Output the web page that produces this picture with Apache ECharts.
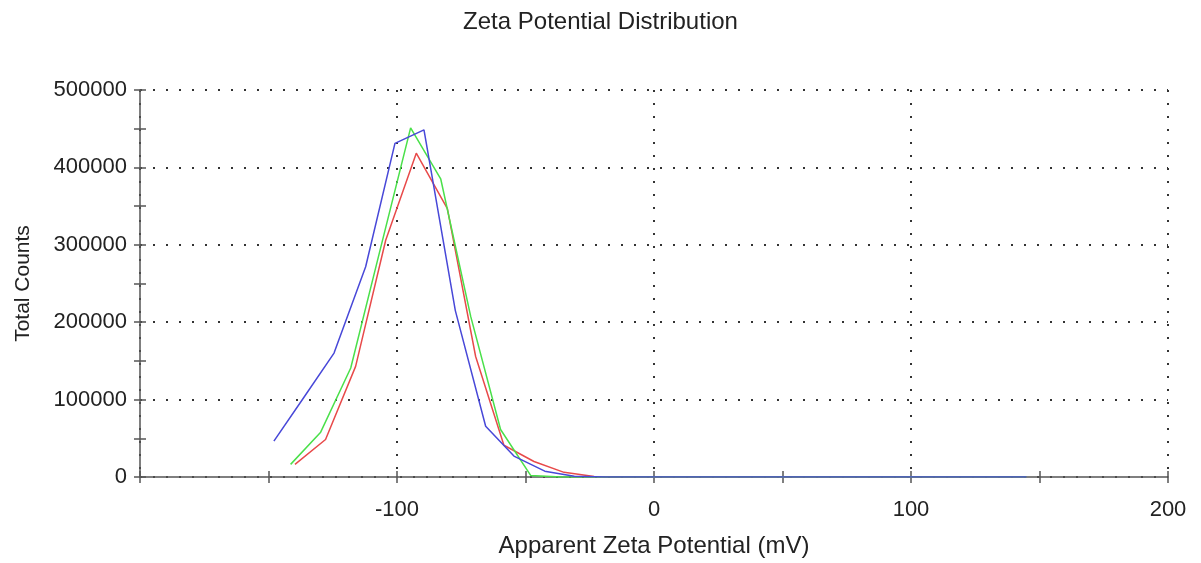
<!DOCTYPE html>
<html>
<head>
<meta charset="utf-8">
<script src="https://cdn.jsdelivr.net/npm/echarts@6/dist/echarts.min.js"></script>
<style>
  html, body { margin: 0; padding: 0; background: #fff; }
  #chart { width: 1201px; height: 563px; }
</style>
</head>
<body>
<div id="chart"></div>
<script>
// x positions (mV) and total counts for each run
const redX = [-139.7, -127.8, -116.1, -104.4, -92.5, -80.4, -69.4, -58.4, -46.7, -35.0, -23.3, -11.6, 145];
const redY = [16300, 48500, 142900, 305900, 418300, 346700, 155700, 41000, 20000, 6000, 500, 0, 0];

const greenX = [-141.4, -129.7, -118.0, -106.3, -94.7, -83.0, -71.3, -59.7, -48.0, -36.3, 145];
const greenY = [16300, 57900, 140800, 297000, 451000, 385300, 207200, 61400, 2000, 0, 0];

const blueX = [-147.9, -136.2, -124.5, -112.2, -100.8, -89.5, -77.3, -65.5, -54.5, -42.5, -31.0, -19.0, 145];
const blueY = [46300, 103000, 160100, 271600, 431100, 448400, 215000, 65600, 27000, 7500, 1000, 0, 0];

const xTicks = [-200, -100, 0, 100, 200];
const yTicks = [0, 100000, 200000, 300000, 400000, 500000];

const FONT = 'Liberation Sans, Arial, sans-serif';

function pairs(xs, ys) {
  return xs.map((x, i) => [x, ys[i]]);
}

const chart = echarts.init(document.getElementById('chart'));

const tickStyle = { color: '#555', width: 1.5 };
const axisLine = { show: true, onZero: false, lineStyle: { color: '#555', width: 1.5 } };
const dotted = { show: true, lineStyle: { color: '#333', width: 2, type: [2, 11] } };

// second pair of axes only draws the inner half of the ticks, so they cross the axis line
const innerTicks = {
  axisLine: { show: false, onZero: false },
  axisTick: { show: true, inside: true, length: 6, lineStyle: tickStyle },
  minorTick: { show: true, splitNumber: 2, length: 6, lineStyle: tickStyle },
  axisLabel: { show: false },
  splitLine: { show: false }
};

const option = {
  animation: false,
  title: {
    text: 'Zeta Potential Distribution',
    left: 'center',
    top: 5,
    textStyle: { fontFamily: FONT, fontSize: 24, fontWeight: 'normal', color: '#222' }
  },
  grid: { left: 140, right: 33, top: 90, bottom: 85 },
  xAxis: [
    {
      type: 'value',
      min: xTicks[0],
      max: xTicks[xTicks.length - 1],
      interval: 100,
      name: 'Apparent Zeta Potential (mV)',
      nameLocation: 'middle',
      nameGap: 57,
      nameTextStyle: { fontFamily: FONT, fontSize: 24, color: '#222' },
      axisLine: axisLine,
      axisTick: { show: true, length: 6, lineStyle: tickStyle },
      minorTick: { show: true, splitNumber: 2, length: 6, lineStyle: tickStyle },
      axisLabel: { fontFamily: FONT, fontSize: 22, color: '#222', margin: 22, showMinLabel: false },
      splitLine: dotted
    },
    Object.assign({
      type: 'value',
      position: 'bottom',
      min: xTicks[0],
      max: xTicks[xTicks.length - 1],
      interval: 100
    }, innerTicks)
  ],
  yAxis: [
    {
      type: 'value',
      min: yTicks[0],
      max: yTicks[yTicks.length - 1],
      interval: 100000,
      name: 'Total Counts',
      nameLocation: 'middle',
      nameGap: 106,
      nameTextStyle: { fontFamily: FONT, fontSize: 21, color: '#222' },
      axisLine: axisLine,
      axisTick: { show: true, length: 6, lineStyle: tickStyle },
      minorTick: { show: true, splitNumber: 2, length: 6, lineStyle: tickStyle },
      axisLabel: {
        fontFamily: FONT, fontSize: 22, color: '#222', margin: 13,
        formatter: (v) => String(v)
      },
      splitLine: dotted
    },
    Object.assign({
      type: 'value',
      position: 'left',
      min: yTicks[0],
      max: yTicks[yTicks.length - 1],
      interval: 100000
    }, innerTicks)
  ],
  series: [
    {
      name: 'Run 1',
      type: 'line',
      data: pairs(redX, redY),
      showSymbol: false,
      lineStyle: { color: '#e84a4a', width: 1.5 },
      z: 3
    },
    {
      name: 'Run 2',
      type: 'line',
      data: pairs(greenX, greenY),
      showSymbol: false,
      lineStyle: { color: '#4ae04a', width: 1.5 },
      z: 4
    },
    {
      name: 'Run 3',
      type: 'line',
      data: pairs(blueX, blueY),
      showSymbol: false,
      lineStyle: { color: '#4848d8', width: 1.5 },
      z: 5
    }
  ]
};

chart.setOption(option);
</script>
</body>
</html>
